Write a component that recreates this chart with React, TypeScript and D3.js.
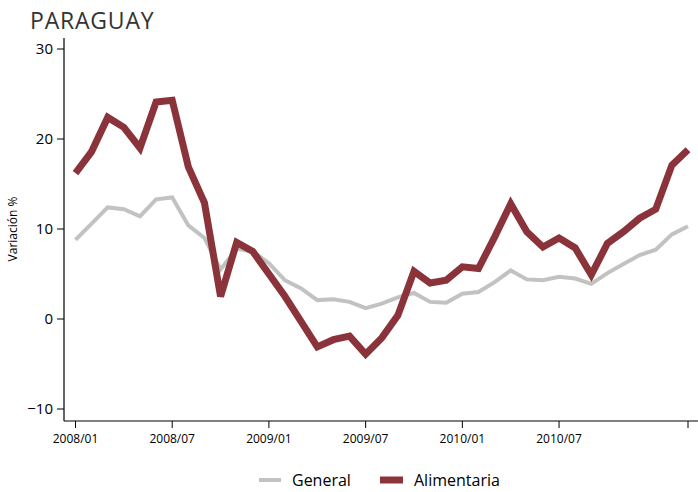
import React from "react";
import * as d3 from "d3";

const months: string[] = [
  "2008/01","2008/02","2008/03","2008/04","2008/05","2008/06","2008/07","2008/08","2008/09","2008/10","2008/11","2008/12",
  "2009/01","2009/02","2009/03","2009/04","2009/05","2009/06","2009/07","2009/08","2009/09","2009/10","2009/11","2009/12",
  "2010/01","2010/02","2010/03","2010/04","2010/05","2010/06","2010/07","2010/08","2010/09","2010/10","2010/11","2010/12",
  "2011/01","2011/02","2011/03",
];

const general: number[] = [
  8.8, 10.6, 12.4, 12.2, 11.4, 13.3, 13.5, 10.4, 9.0, 5.5, 7.8, 7.5,
  6.2, 4.3, 3.4, 2.1, 2.2, 1.9, 1.2, 1.7, 2.4, 2.9, 1.9, 1.8,
  2.8, 3.0, 4.1, 5.4, 4.4, 4.3, 4.7, 4.5, 3.9, 5.1, 6.1, 7.1,
  7.7, 9.4, 10.3,
];

const alimentaria: number[] = [
  16.2, 18.6, 22.4, 21.3, 19.0, 24.1, 24.3, 16.9, 12.9, 2.5, 8.5, 7.5,
  5.0, 2.5, -0.3, -3.1, -2.3, -1.9, -3.9, -2.1, 0.4, 5.3, 4.0, 4.3,
  5.8, 5.6, 9.1, 12.8, 9.7, 8.0, 9.0, 7.9, 4.9, 8.4, 9.7, 11.2,
  12.2, 17.1, 18.8,
];

const yTicks: number[] = [-10, 0, 10, 20, 30];
const xTickLabels: string[] = ["2008/01", "2008/07", "2009/01", "2009/07", "2010/01", "2010/07", "2011/03"];
const xLabelShown: string[] = ["2008/01", "2008/07", "2009/01", "2009/07", "2010/01", "2010/07"];

export default function App() {
  const W = 698, H = 492;
  const font = "'Open Sans', 'Noto Sans', sans-serif";
  const axisX = 64;
  const axisY = 421;
  const x = d3.scaleLinear().domain([0, months.length - 1]).range([75.5, 688]);
  const y = d3.scaleLinear().domain([-10, 30]).range([409, 49]);
  const line = d3.line<number>().x((_, i) => x(i)).y((d) => y(d));

  return (
    <svg width={W} height={H} style={{ position: "absolute", left: 0, top: 0, background: "#fff" }}>
      <text x={30} y={29} fontFamily={font} fontSize={23} letterSpacing={0.8} fill="#333">PARAGUAY</text>
      {/* y axis */}
      <line x1={axisX} y1={38} x2={axisX} y2={axisY} stroke="#000" strokeWidth={1.2} />
      {yTicks.map((t) => (
        <g key={t}>
          <line x1={57} x2={axisX} y1={y(t)} y2={y(t)} stroke="#000" strokeWidth={1} />
          <text x={53} y={y(t)} dy="0.35em" textAnchor="end" fontFamily={font} fontSize={15} fill="#000">
            {t < 0 ? "\u2212" + Math.abs(t) : String(t)}
          </text>
        </g>
      ))}
      <text transform={`translate(17,229) rotate(-90)`} textAnchor="middle" fontFamily={font} fontSize={12} fill="#000">Variación %</text>
      {/* x axis */}
      <line x1={axisX} y1={axisY} x2={698} y2={axisY} stroke="#000" strokeWidth={1.2} />
      {xTickLabels.map((m) => {
        const i = months.indexOf(m);
        return (
          <g key={m}>
            <line x1={x(i)} x2={x(i)} y1={axisY} y2={axisY + 7} stroke="#000" strokeWidth={1} />
            {xLabelShown.includes(m) && (
              <text x={x(i)} y={443} textAnchor="middle" fontFamily={font} fontSize={12} fill="#000">{m}</text>
            )}
          </g>
        );
      })}
      {/* lines */}
      <path d={line(general) || ""} fill="none" stroke="#c2c2c0" strokeWidth={4} strokeLinejoin="miter" />
      <path d={line(alimentaria) || ""} fill="none" stroke="#8b333a" strokeWidth={7} strokeLinejoin="miter" />
      {/* legend */}
      <line x1={259} x2={281} y1={480} y2={480} stroke="#c2c2c0" strokeWidth={4} />
      <text x={292} y={486} fontFamily={font} fontSize={16} fill="#000">General</text>
      <line x1={380} x2={403} y1={480} y2={480} stroke="#8b333a" strokeWidth={7} />
      <text x={414} y={486} fontFamily={font} fontSize={16} fill="#000">Alimentaria</text>
    </svg>
  );
}
